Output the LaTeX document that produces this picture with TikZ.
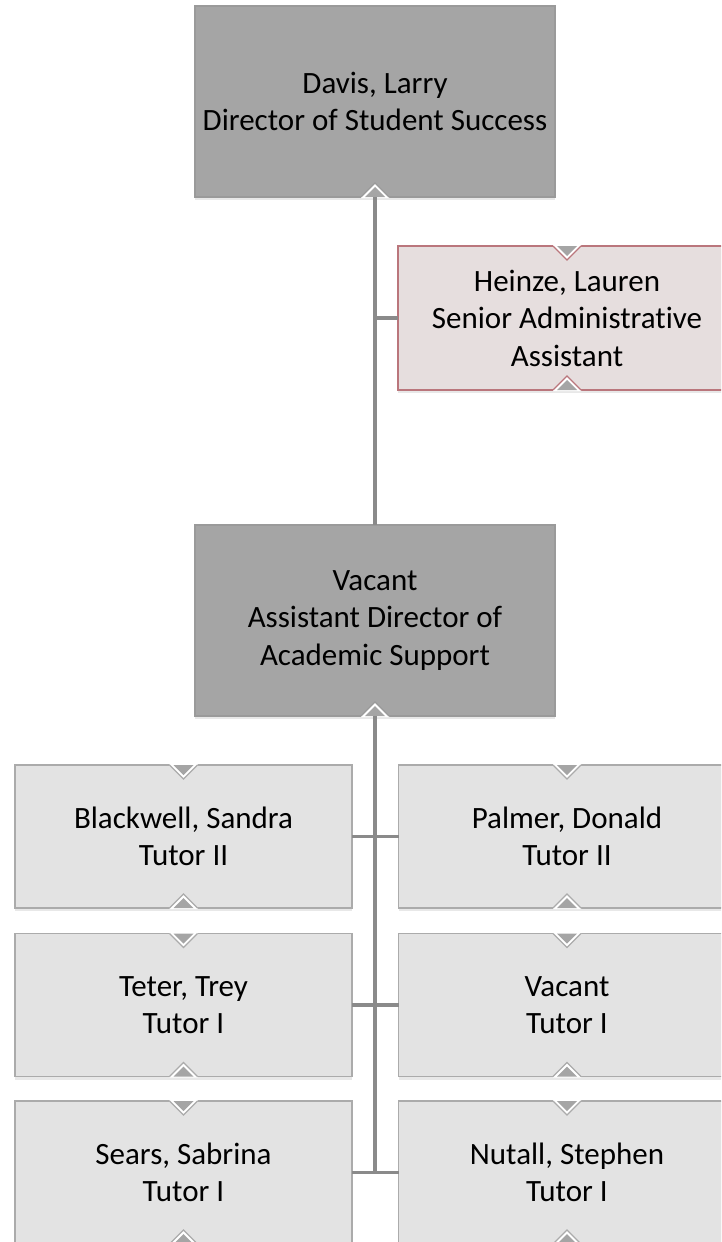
\documentclass[tikz,border=0pt]{standalone}
\usepackage{fontspec}
\setmainfont[Ligatures={NoCommon}]{Carlito}
\usetikzlibrary{shadows,calc}
\definecolor{darkbox}{HTML}{A5A5A5}
\definecolor{darkborder}{HTML}{9A9A9A}
\definecolor{lightbox}{HTML}{E3E3E3}
\definecolor{lightborder}{HTML}{ABABAB}
\definecolor{pinkbox}{HTML}{E6DEDE}
\definecolor{pinkborder}{HTML}{BA767C}
\definecolor{linkgray}{HTML}{8A8A8A}
\definecolor{notchgray}{HTML}{A5A5A5}
\tikzset{
  box/.style={rectangle, inner sep=0pt, outer sep=0pt, line width=1.2pt, align=center,
    font=\fontsize{31}{37.5}\selectfont,
    drop shadow={shadow xshift=0pt, shadow yshift=-3pt, opacity=0.18}},
  headbox/.style={box, fill=darkbox, draw=darkborder, minimum width=360pt, minimum height=191pt},
  tutorbox/.style={box, fill=lightbox, draw=lightborder, minimum width=337pt, minimum height=143pt},
  assistbox/.style={box, fill=pinkbox, draw=pinkborder, minimum width=338pt, minimum height=144pt},
  link/.style={draw=linkgray, line width=3.5pt},
}
\newcommand\mytopnotch[3]{%
  \fill[white] ($(#1.north)+(-14,-1)$) -- ($(#1.north)+(14,-1)$) -- ($(#1.north)+(14,0)$) -- ($(#1.north)+(0,14)$) -- ($(#1.north)+(-14,0)$) -- cycle;
  \draw[#2, line width=1.2pt] ($(#1.north)+(-14,0)$) -- ($(#1.north)+(0,14)$) -- ($(#1.north)+(14,0)$);
  \fill[#3] ($(#1.north)+(-10,0)$) -- ($(#1.north)+(10,0)$) -- ($(#1.north)+(0,10)$) -- cycle;
}
\newcommand\mybotnotch[3]{%
  \fill[white] ($(#1.south)+(-14,1)$) -- ($(#1.south)+(14,1)$) -- ($(#1.south)+(14,0)$) -- ($(#1.south)+(0,-14)$) -- ($(#1.south)+(-14,0)$) -- cycle;
  \draw[#2, line width=1.2pt] ($(#1.south)+(-14,0)$) -- ($(#1.south)+(0,-14)$) -- ($(#1.south)+(14,0)$);
  \fill[#3] ($(#1.south)+(-10,0)$) -- ($(#1.south)+(10,0)$) -- ($(#1.south)+(0,-10)$) -- cycle;
}
\begin{document}
\begin{tikzpicture}[x=1pt, y=-1pt]
\useasboundingbox (0,0) rectangle (721,1242);
\clip (0,0) rectangle (721,1242);
% nodes
\node[headbox] (davis) at (375,101.5) {Davis, Larry\\Director of Student Success};
\node[assistbox] (heinze) at (567,318) {Heinze, Lauren\\Senior Administrative\\Assistant};
\node[headbox] (vacant) at (375,620.5) {Vacant\\Assistant Director of\\Academic Support};
\node[tutorbox] (blackwell) at (183.5,836.5) {Blackwell, Sandra\\Tutor II};
\node[tutorbox] (palmer) at (567,836.5) {Palmer, Donald\\Tutor II};
\node[tutorbox] (teter) at (183.5,1005) {Teter, Trey\\Tutor I};
\node[tutorbox] (vacant2) at (567,1005) {Vacant\\Tutor I};
\node[tutorbox] (sears) at (183.5,1172.5) {Sears, Sabrina\\Tutor I};
\node[tutorbox] (nutall) at (567,1172.5) {Nutall, Stephen\\Tutor I};
% notches
\mybotnotch{davis}{darkborder}{darkbox}
\mybotnotch{vacant}{darkborder}{darkbox}
\mytopnotch{heinze}{pinkborder}{notchgray}
\mybotnotch{heinze}{pinkborder}{notchgray}
\foreach \n in {blackwell,palmer,teter,vacant2,sears,nutall}{
  \mytopnotch{\n}{lightborder}{notchgray}
  \mybotnotch{\n}{lightborder}{notchgray}
}
% connectors
\draw[link] (davis.south) -- (vacant.north);
\draw[link] (davis.south) |- (heinze.west);
\draw[link] (vacant.south) |- (blackwell.east);
\draw[link] (vacant.south) |- (palmer.west);
\draw[link] (vacant.south) |- (teter.east);
\draw[link] (vacant.south) |- (vacant2.west);
\draw[link] (vacant.south) |- (sears.east);
\draw[link] (vacant.south) |- (nutall.west);
\end{tikzpicture}
\end{document}
